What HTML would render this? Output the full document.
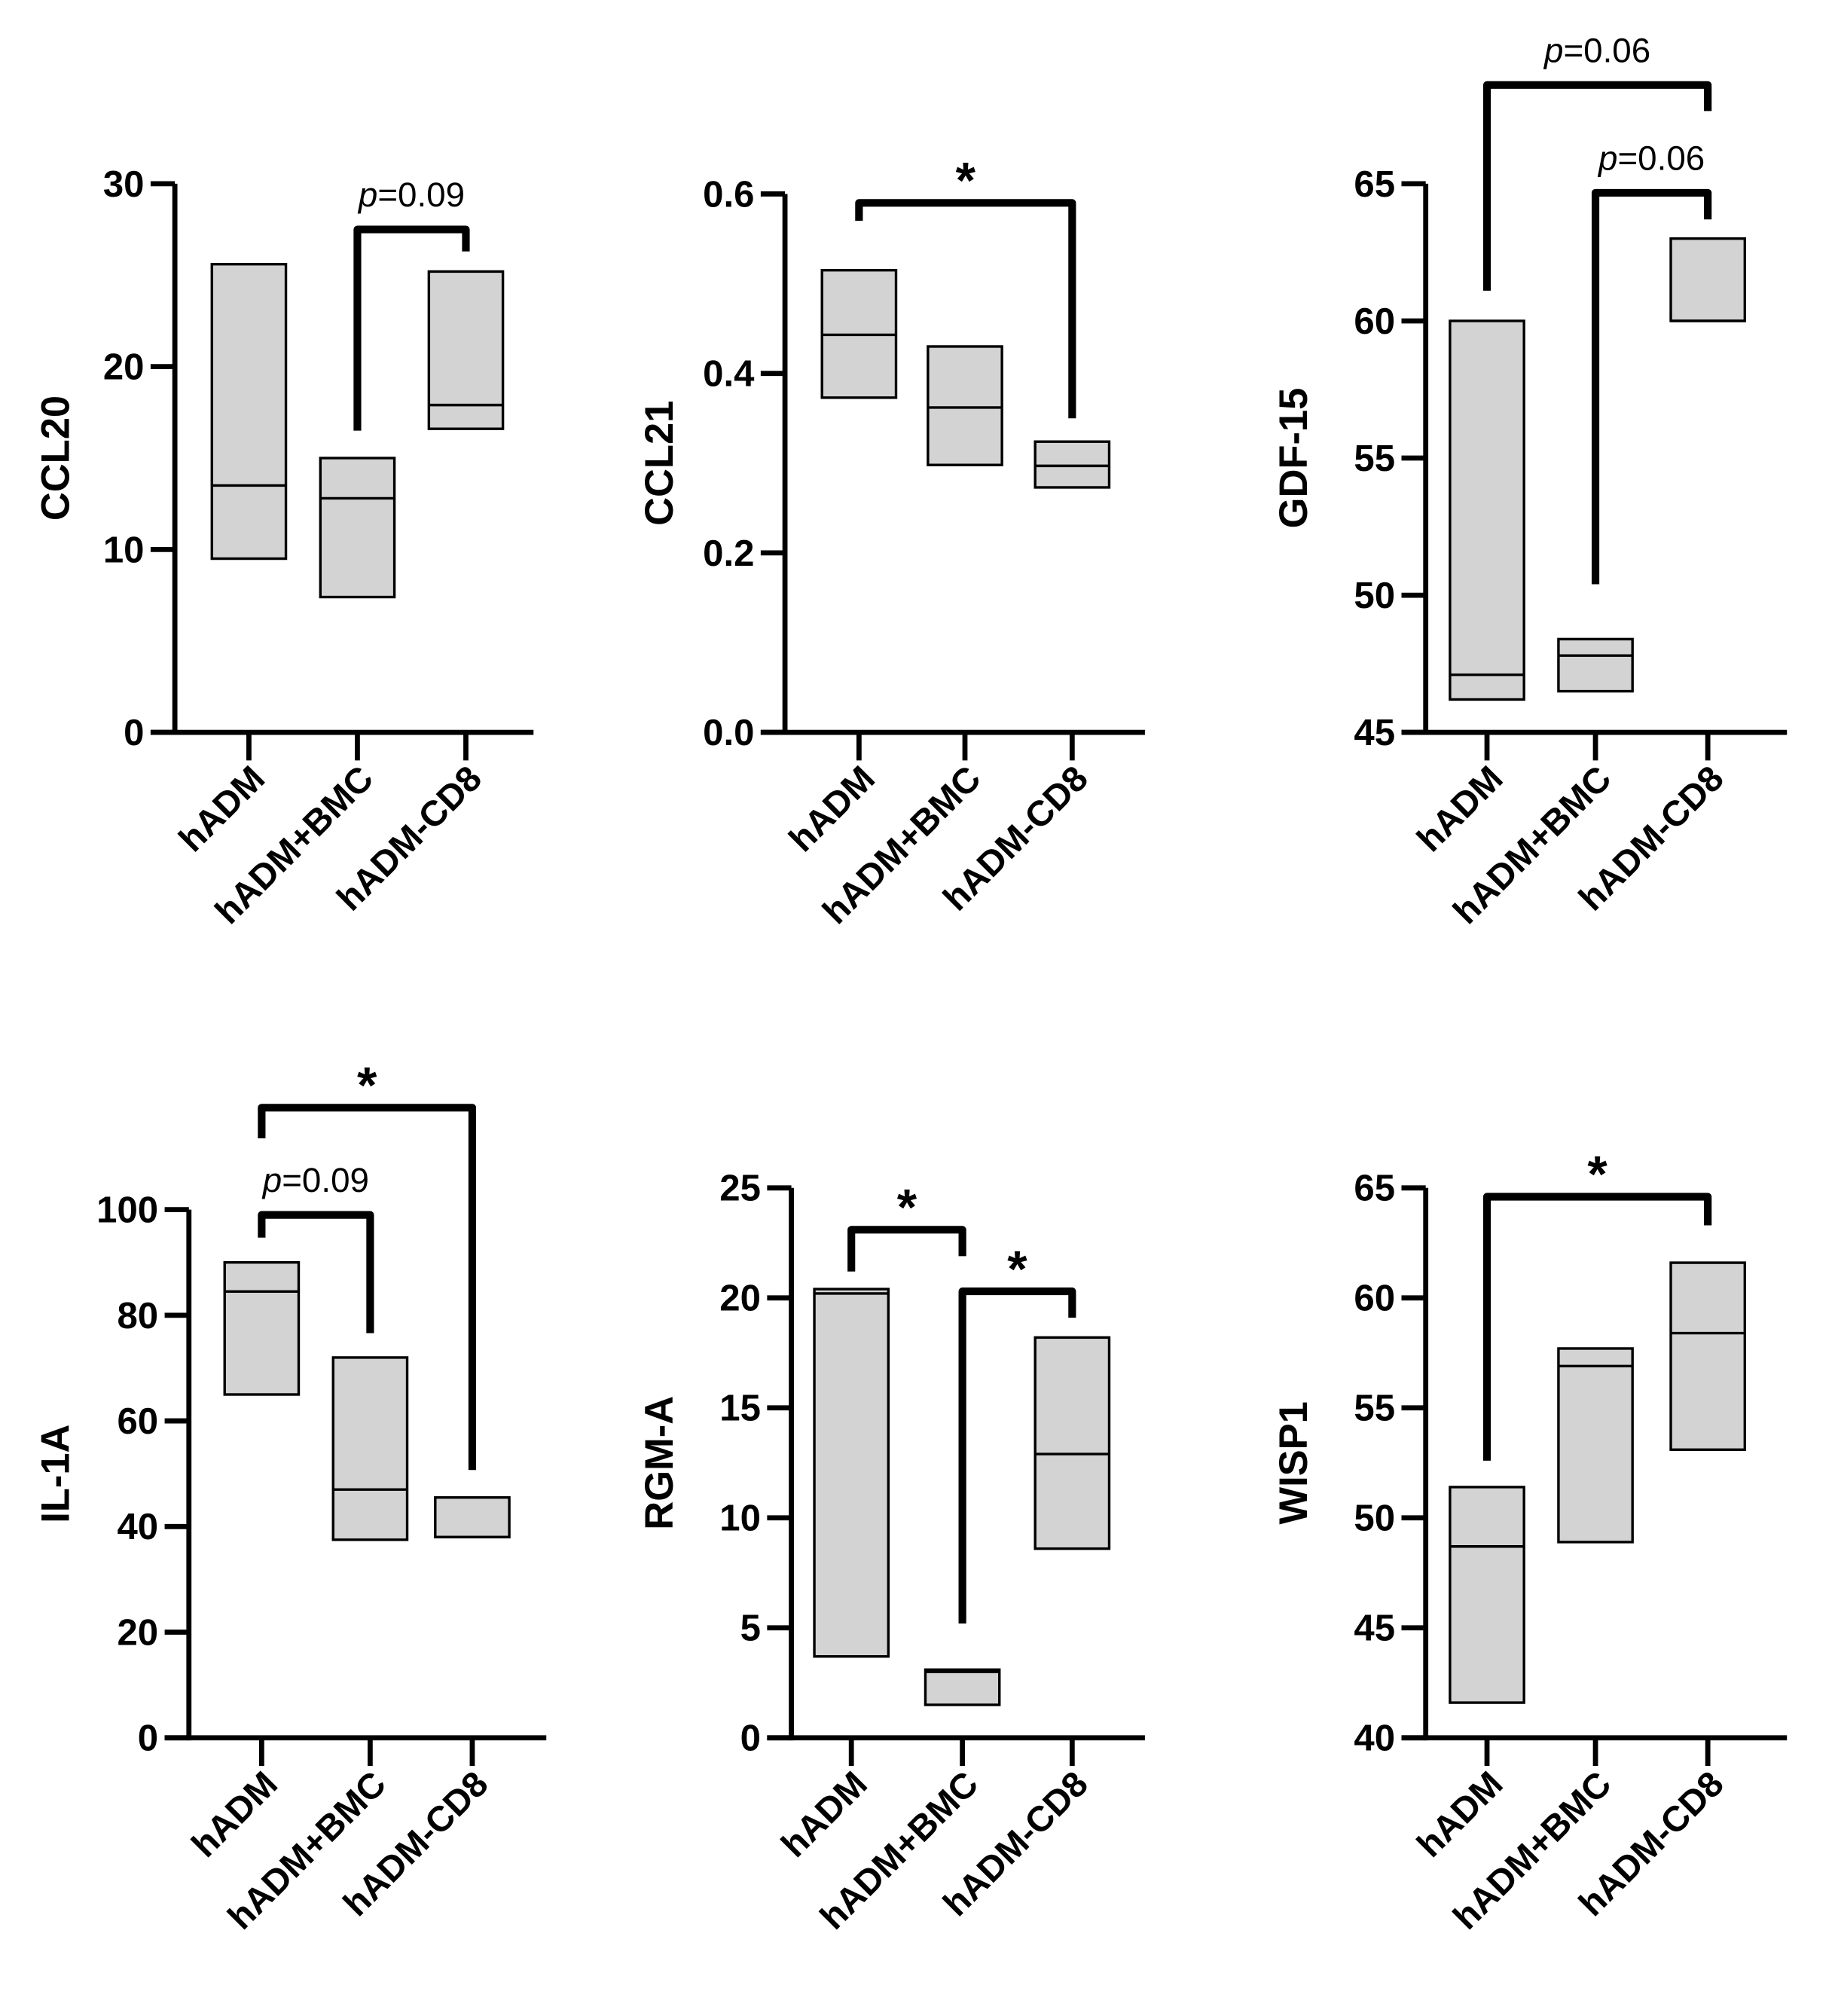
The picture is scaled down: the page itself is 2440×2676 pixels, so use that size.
<!DOCTYPE html>
<html><head><meta charset="utf-8"><style>
html,body{margin:0;padding:0;background:#fff;}
svg{display:block;}
text{font-family:"Liberation Sans",Arial,sans-serif;}
</style></head><body>
<svg id="fig" width="2440" height="2676" viewBox="0 0 1440 1580" preserveAspectRatio="none" xmlns="http://www.w3.org/2000/svg"></svg>
<script>
const categories = ["hADM","hADM+BMC","hADM-CD8"];
const panelTitles = ["CCL20","CCL21","GDF-15","IL-1A","RGM-A","WISP1"];
const yMins = [0,0,45,0,0,40];
const yMaxs = [30,0.6,65,100,25,65];
const yTicks = [[0,10,20,30],[0,0.2,0.4,0.6],[45,50,55,60,65],[0,20,40,60,80,100],[0,5,10,15,20,25],[40,45,50,55,60,65]];
const yTickLabels = [["0","10","20","30"],["0.0","0.2","0.4","0.6"],["45","50","55","60","65"],["0","20","40","60","80","100"],["0","5","10","15","20","25"],["40","45","50","55","60","65"]];
// [min, median, max] per category
const boxLow = [[9.5,7.4,16.6],[0.373,0.298,0.273],[46.2,46.5,60],[65,37.5,38],[3.7,1.5,8.6],[41.6,48.9,53.1]];
const boxMed = [[13.5,12.8,17.9],[0.443,0.362,0.297],[47.1,47.8,60],[84.5,47,38],[20.2,3.0,12.9],[48.7,56.9,58.4]];
const boxHigh = [[25.6,15.0,25.2],[0.515,0.43,0.324],[60,48.4,63],[90,72,45.5],[20.4,3.1,18.2],[51.4,57.7,61.6]];
// brackets: [panel, fromCat, toCat, topValue, leftLegEnd, rightLegEnd, label]
const brackets = [
 [0,1,2,27.5,16.5,26.3,"p=0.09"],
 [1,0,2,0.59,0.57,0.35,"*"],
 [2,0,2,68.6,61.1,67.65,"p=0.06"],
 [2,1,2,64.67,50.4,63.7,"p=0.06"],
 [3,0,1,99,94.7,76.6,"p=0.09"],
 [3,0,2,119.3,113.5,50.7,"*"],
 [4,0,1,23.1,21.2,21.9,"*"],
 [4,1,2,20.3,5.2,19.1,"*"],
 [5,0,2,64.6,52.6,63.3,"*"]
];
const L = [
 {ax:137,top:144,bot:574,xEnd:418,cx:[195,280,365],tx:42},
 {ax:615,top:152,bot:574,xEnd:897,cx:[673,756,840],tx:515},
 {ax:1117,top:144,bot:574,xEnd:1400,cx:[1165,1250,1338],tx:1012},
 {ax:148,top:948,bot:1362,xEnd:428,cx:[205,290,370],tx:42},
 {ax:620,top:931,bot:1362,xEnd:897,cx:[667,754,840],tx:515},
 {ax:1117,top:931,bot:1362,xEnd:1400,cx:[1165,1250,1338],tx:1012}
];
const NS="http://www.w3.org/2000/svg";
const svg=document.getElementById('fig');
function mk(tag,attrs,parent,txt){const e=document.createElementNS(NS,tag);for(const k in attrs)e.setAttribute(k,attrs[k]);if(txt!==undefined)e.textContent=txt;(parent||svg).appendChild(e);return e;}
panelTitles.forEach((title,p)=>{
  const g=mk('g',{});
  
  
  const l=L[p];
  const y=v=>l.bot-(v-yMins[p])/(yMaxs[p]-yMins[p])*(l.bot-l.top);
  const bw=58;
  categories.forEach((c,i)=>{
    const r=mk('rect',{x:l.cx[i]-bw/2,y:y(boxHigh[p][i]),width:bw,height:y(boxLow[p][i])-y(boxHigh[p][i]),fill:'#d3d3d3',stroke:'#000','stroke-width':2},g);
    
    
    const m=mk('line',{x1:l.cx[i]-bw/2,x2:l.cx[i]+bw/2,y1:y(boxMed[p][i]),y2:y(boxMed[p][i]),stroke:'#000','stroke-width':2},g);
    
    
  });
  const ya=mk('line',{x1:l.ax,x2:l.ax,y1:l.top,y2:l.bot+2,stroke:'#000','stroke-width':4},g);
  
  
  const xa=mk('line',{x1:l.ax-19,x2:l.xEnd,y1:l.bot,y2:l.bot,stroke:'#000','stroke-width':4},g);
  
  
  yTicks[p].forEach((t,k)=>{
    mk('line',{x1:l.ax-19,x2:l.ax,y1:y(t),y2:y(t),stroke:'#000','stroke-width':4},g);
    const tl=mk('text',{x:l.ax-24,y:y(t)+10,'text-anchor':'end','font-size':29,'font-weight':'bold'},g,yTickLabels[p][k]);
    
    
  });
  categories.forEach((c,i)=>{
    mk('line',{x1:l.cx[i],x2:l.cx[i],y1:l.bot,y2:l.bot+22,stroke:'#000','stroke-width':4},g);
    const cl=mk('text',{transform:`translate(${l.cx[i]+14},${l.bot+38}) rotate(-45)`,'text-anchor':'end','font-size':28,'font-weight':'bold'},g,c);
    
    
  });
  const yt=mk('text',{transform:`translate(${l.tx+12},${(l.top+l.bot)/2}) rotate(-90)`,'text-anchor':'middle','font-size':31,'font-weight':'bold'},g,title);
  
  
});
brackets.forEach(b=>{
  const [p,a,c,top,le,re,lab]=b;
  const l=L[p];
  const y=v=>l.bot-(v-yMins[p])/(yMaxs[p]-yMins[p])*(l.bot-l.top);
  const x1=l.cx[a],x2=l.cx[c];
  const pl=mk('polyline',{points:`${x1},${y(le)} ${x1},${y(top)} ${x2},${y(top)} ${x2},${y(re)}`,fill:'none',stroke:'#000','stroke-width':6,'stroke-linejoin':'round'});
  
  
  const mx=(x1+x2)/2;
  let t;
  if(lab==='*'){
    t=mk('text',{x:mx,y:y(top)-4,'text-anchor':'middle','font-size':40,'font-weight':'bold'});
    t.textContent='*';
  } else {
    t=mk('text',{x:mx,y:y(top)-18,'text-anchor':'middle','font-size':27});
    mk('tspan',{'font-style':'italic'},t,'p');
    mk('tspan',{},t,lab.slice(1));
  }
  
  
});
</script>
</body></html>
